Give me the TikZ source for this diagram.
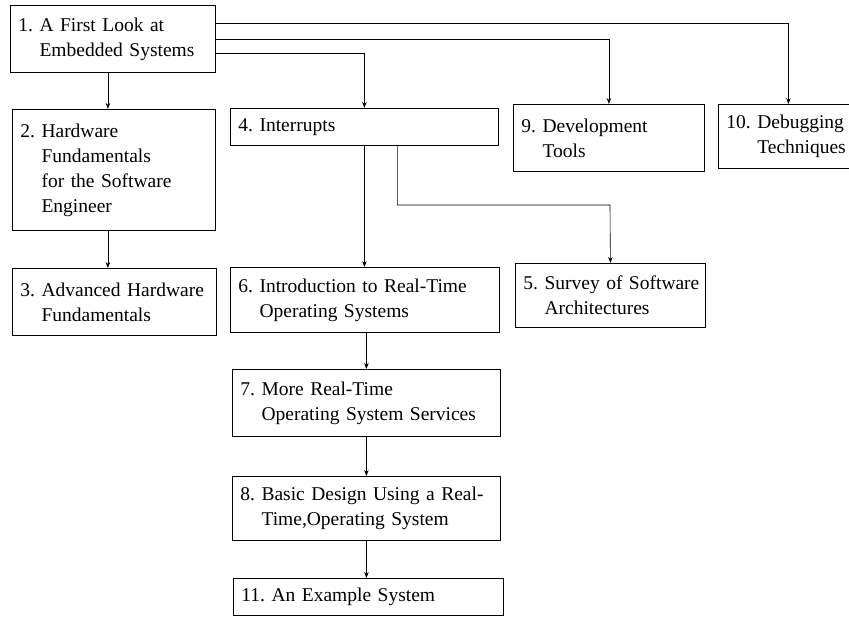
\documentclass[tikz,border=0pt]{standalone}
\usepackage{fontspec}
\setmainfont{Liberation Serif}
\usetikzlibrary{arrows.meta}
\newcommand{\chapfont}{\fontsize{19.5}{25}\selectfont\frenchspacing
  \hyphenpenalty=10000\relax\exhyphenpenalty=10000\relax}
\tikzset{
  chap/.style={draw, line width=0.8pt, rectangle, anchor=north west,
    inner xsep=8pt, inner ysep=0pt, align=left, font=\chapfont},
  arr/.style={-{Stealth[length=6pt,width=4.5pt]}, line width=0.6pt}
}
\begin{document}
\begin{tikzpicture}[x=1pt,y=-1pt]
      \useasboundingbox (0,0) rectangle (849,617);
      \node[chap, minimum width=205pt, minimum height=67pt, text width=189pt] (c1) at (10,5)
        {1. A First Look at\\\hphantom{1. }Embedded Systems};
      \node[chap, minimum width=203pt, minimum height=121pt, text width=187pt] (c2) at (12,109)
        {2. Hardware\\\hphantom{2. }Fundamentals\\\hphantom{2. }for the Software\\\hphantom{2. }Engineer};
      \node[chap, minimum width=204pt, minimum height=67pt, text width=188pt] (c3) at (12,268)
        {\mbox{3. Advanced Hardware}\\\hphantom{3. }Fundamentals};
      \node[chap, minimum width=268pt, minimum height=37pt, text width=252pt] (c4) at (230,108)
        {4. Interrupts};
      \node[chap, minimum width=190pt, minimum height=64pt, text width=174pt] (c5) at (515,263)
        {\mbox{5. Survey of Software}\\\hphantom{5. }Architectures};
      \node[chap, minimum width=269pt, minimum height=65pt, text width=253pt] (c6) at (230,267)
        {6. Introduction to Real-Time\\\hphantom{6. }Operating Systems};
      \node[chap, minimum width=268pt, minimum height=67pt, text width=252pt] (c7) at (232,369)
        {7. More Real-Time\\\hphantom{7. }Operating System Services};
      \node[chap, minimum width=268pt, minimum height=64pt, text width=252pt] (c8) at (232,476)
        {8. Basic Design Using a Real-\\\hphantom{8. }Time,Operating System};
      \node[chap, minimum width=191pt, minimum height=67pt, text width=175pt] (c9) at (513,104)
        {9. Development\\\hphantom{9. }Tools};
      \node[chap, minimum width=140pt, minimum height=64pt, text width=124pt] (c10) at (718,104)
        {\mbox{10. Debugging}\\\hphantom{10. }Techniques};
      \node[chap, minimum width=270pt, minimum height=37pt, text width=254pt] (c11) at (233,578)
        {11. An Example System};
      \coordinate (k45) at (610,205);
      \begin{scope}[arr]
        \draw ([yshift=16pt]c1.east) -| (c10.north);
        \draw (c1.east) -| (c9.north);
        \draw ([yshift=-14pt]c1.east) -| (c4.north);
        \draw ([xshift=-5pt]c1.south) -- ([xshift=-5pt]c1.south |- c2.north);
        \draw ([xshift=-6pt]c2.south) -- ([xshift=-6pt]c2.south |- c3.north);
        \draw (c4.south) -- (c4.south |- c6.north);
        \draw ([xshift=33pt]c4.south) |- (k45) -- (c5.north);
        \draw (c7.north |- c6.south) -- (c7.north);
        \draw (c7.south) -- (c8.north);
        \draw (c8.south) -- (c8.south |- c11.north);
      \end{scope}
    \end{tikzpicture}
\end{document}
